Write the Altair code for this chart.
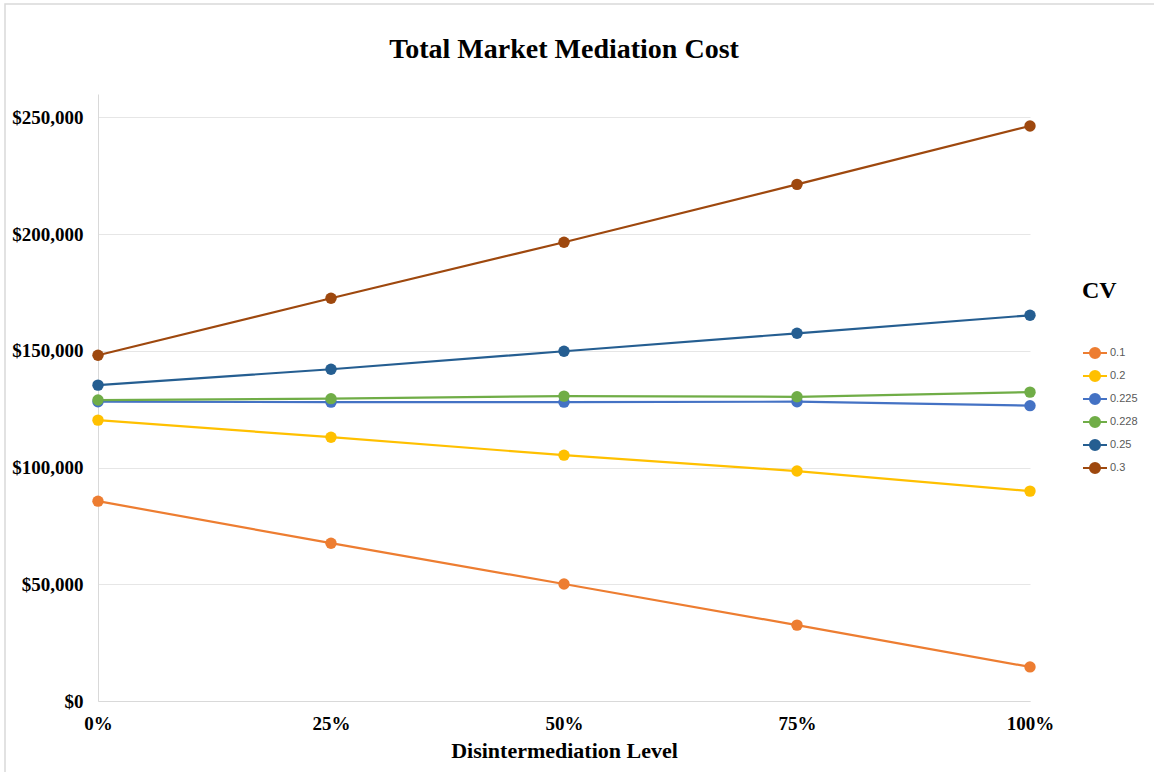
import altair as alt
import pandas as pd

levels = [0.0, 0.25, 0.5, 0.75, 1.0]
cv_labels = ["0.1", "0.2", "0.225", "0.228", "0.25", "0.3"]
cost_01 = [85600, 67600, 50100, 32500, 14600]
cost_02 = [120300, 113000, 105300, 98500, 89900]
cost_0225 = [128200, 128000, 128000, 128200, 126500]
cost_0228 = [128900, 129500, 130600, 130300, 132300]
cost_025 = [135300, 142100, 149800, 157500, 165200]
cost_03 = [148100, 172500, 196500, 221300, 246300]
colors = ["#ED7D31", "#FFC000", "#4472C4", "#70AD47", "#255E91", "#9E480E"]
title_text = "Total Market Mediation Cost"

series = [cost_01, cost_02, cost_0225, cost_0228, cost_025, cost_03]
rows = []
for i, (lab, vals) in enumerate(zip(cv_labels, series)):
    for lv, v in zip(levels, vals):
        rows.append({"level": lv, "cost": v, "CV": lab, "order": i})
df = pd.DataFrame(rows)

W, H = 932, 607
PL, PT = 98, 94

serif = "Liberation Serif"

x_enc = alt.X("level:Q", scale=alt.Scale(domain=[0, 1], nice=False),
              axis=alt.Axis(values=levels, format=".0%", title="Disintermediation  Level",
                            grid=False, ticks=False, domain=True, domainColor="#D9D9D9",
                            labelFont=serif, labelFontWeight="bold", labelFontSize=19,
                            labelColor="#000000", labelPadding=13, labelFlush=False,
                            titleFont=serif, titleFontWeight="bold", titleFontSize=22,
                            titleColor="#000000", titlePadding=7))
y_enc = alt.Y("cost:Q", scale=alt.Scale(domain=[0, 260000], nice=False),
              axis=alt.Axis(values=[0, 50000, 100000, 150000, 200000, 250000], format="$,.0f",
                            title=None, grid=True, gridColor="#E6E6E6", ticks=False,
                            domain=True, domainColor="#D9D9D9",
                            labelFont=serif, labelFontWeight="bold", labelFontSize=19,
                            labelColor="#000000", labelPadding=15))
color_enc = alt.Color("CV:N", scale=alt.Scale(domain=cv_labels, range=colors),
                      legend=alt.Legend(title="CV", orient="none", legendX=984, legendY=185,
                                        titleFont=serif, titleFontWeight="bold", titleFontSize=24,
                                        titleColor="#000000", titlePadding=37,
                                        labelFont="Liberation Sans", labelFontSize=11,
                                        labelColor="#595959", labelOffset=2,
                                        symbolType="M-1,0L1,0M-0.42,0A0.42,0.42,0,1,1,0.42,0A0.42,0.42,0,1,1,-0.42,0Z",
                                        symbolSize=576, symbolStrokeWidth=2, rowPadding=0))

border = alt.Chart(pd.DataFrame({"a": [0]})).mark_rect(
    fill="transparent", stroke="#D9D9D9", strokeWidth=1.5
).encode(x=alt.value(5 - PL), y=alt.value(4 - PT), x2=alt.value(1300), y2=alt.value(900))

title = alt.Chart(pd.DataFrame({"t": [title_text]})).mark_text(
    font=serif, fontWeight="bold", fontSize=28, color="#000000",
    align="center", baseline="middle"
).encode(text="t:N", x=alt.value(W / 2), y=alt.value(50 - PT))

lines = alt.Chart(df).mark_line(strokeWidth=2.2).encode(
    x=x_enc, y=y_enc, color=color_enc, order="level:Q")
points = alt.Chart(df).mark_circle(size=130, opacity=1).encode(
    x=x_enc, y=y_enc, color=color_enc, order="order:Q")

chart = alt.layer(border, title, lines, points).properties(
    width=W, height=H,
    background="white",
    autosize=alt.AutoSizeParams(type="none"),
    padding={"left": PL, "top": PT, "right": 1154 - PL - W, "bottom": 772 - PT - H},
).configure_view(stroke="transparent", strokeWidth=0)

chart.save("out.html", embed_options={"renderer": "svg", "actions": False})
